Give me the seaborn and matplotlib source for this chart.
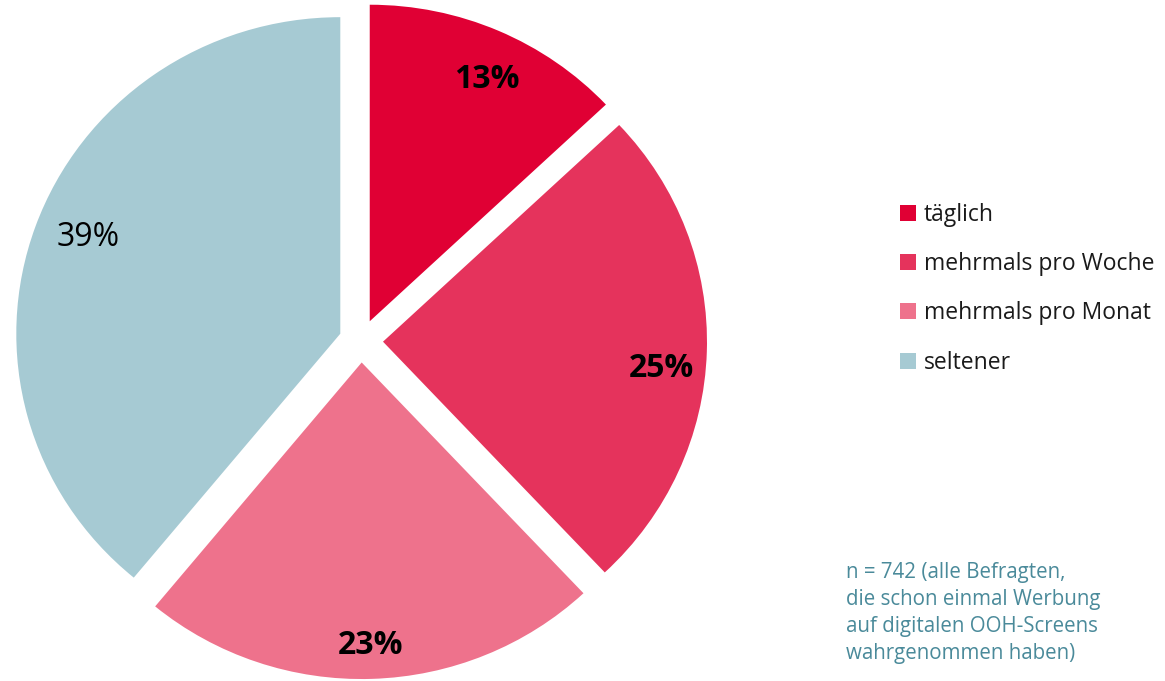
import matplotlib
matplotlib.use('Agg')
import matplotlib.pyplot as plt
import seaborn as sns

sns.set_style('white')
plt.rcParams['font.family'] = ['Open Sans', 'DejaVu Sans']

# Data
categories = ['täglich', 'mehrmals pro Woche', 'mehrmals pro Monat', 'seltener']
shares = [13, 25, 23, 39]
colors = ['#E00034', '#E5335C', '#EE728C', '#A6CAD3']
note = ('n = 742 (alle Befragten,\ndie schon einmal Werbung\n'
        'auf digitalen OOH-Screens\nwahrgenommen haben)')

W, H = 1165, 681
squash = 0.977  # the original pie is a touch wider than tall
fig = plt.figure(figsize=(W / 100, H / 100), dpi=100)
ax = fig.add_axes([0, 0, 1, 1])

wedges, texts, pcts = ax.pie(shares, colors=colors, startangle=90, counterclock=False,
                             center=(361, (H - 341) / squash), radius=324, explode=[22] * 4,
                             autopct='%.0f%%', pctdistance=0.85,
                             wedgeprops=dict(linewidth=0))
# small label nudges (pixels) to sit like the original
nudge = [(8, -5), (3, -18), (0, -14), (7, 5)]
for i, t in enumerate(pcts):
    t.set_fontsize(23)
    t.set_color('black')
    t.set_fontweight('bold' if i < 3 else 'normal')
    x, y = t.get_position()
    t.set_position((x + nudge[i][0], y + nudge[i][1] / squash))

ax.set_xlim(0, W)
ax.set_ylim(0, H / squash)
ax.set_aspect('auto')
ax.axis('off')

leg = ax.legend(wedges, categories, loc='upper left', frameon=False,
                bbox_to_anchor=(900 / W, 1 - 203 / H), bbox_transform=fig.transFigure,
                fontsize=16.5, handlelength=0.7, handleheight=0.7, handletextpad=0.35,
                labelspacing=1.1, borderaxespad=0, borderpad=0)
for t in leg.get_texts():
    t.set_color('#1a1a1a')

fig.text(846 / W, 1 - 562 / H, note, color='#4A8A9A', fontsize=14.8, va='top', ha='left',
         linespacing=1.38)

plt.savefig('out.png', dpi=100)
